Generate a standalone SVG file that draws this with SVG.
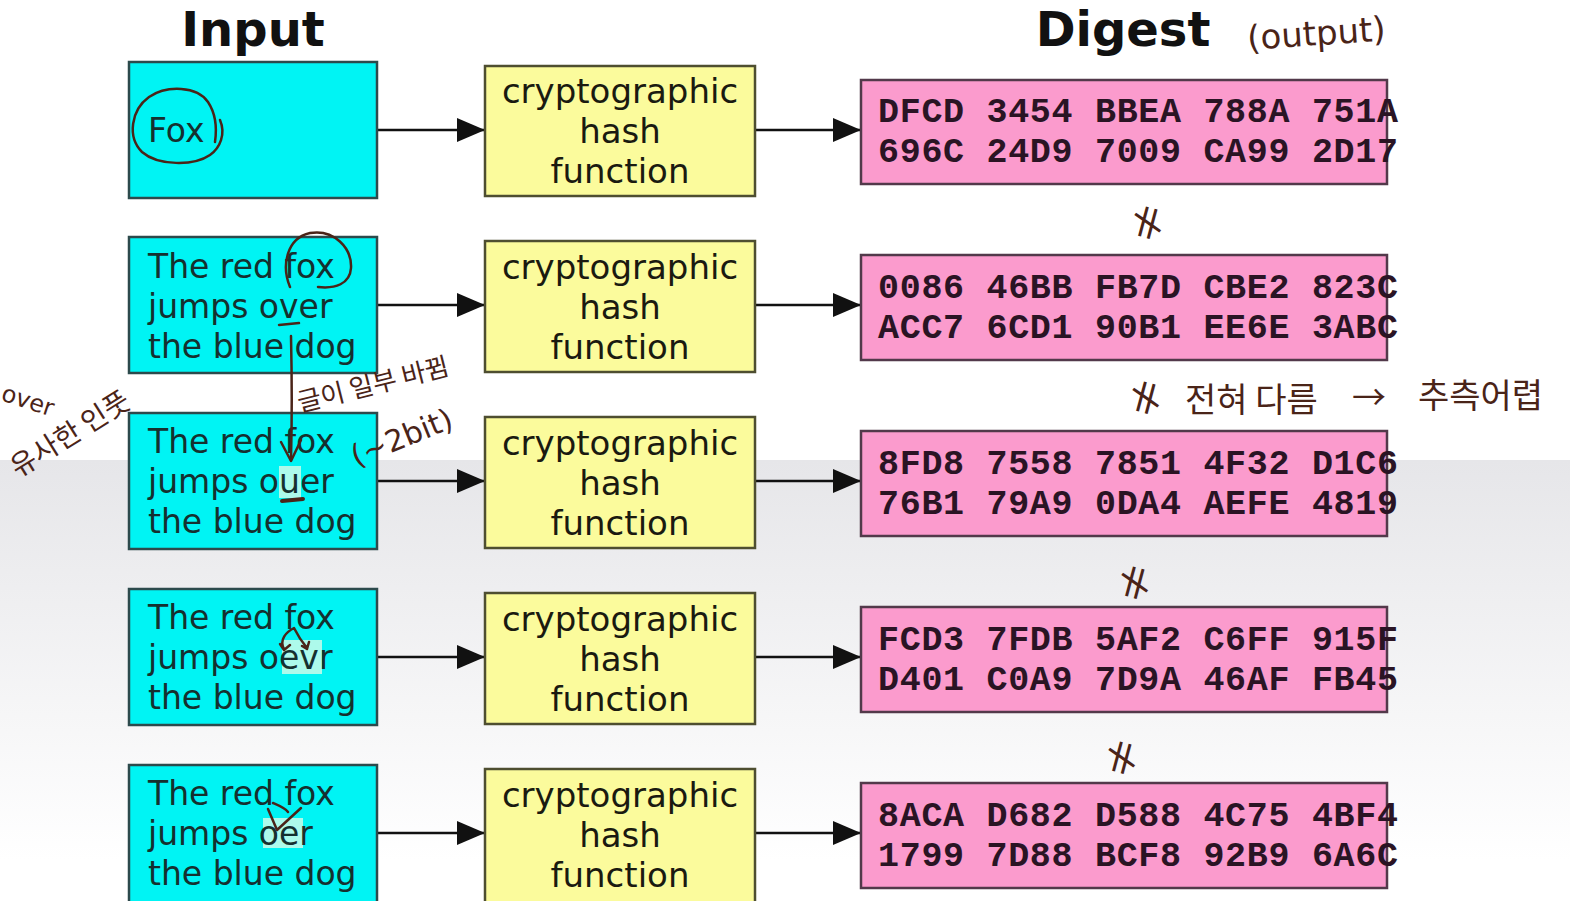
<svg xmlns="http://www.w3.org/2000/svg" width="1570" height="901" viewBox="0 0 1570 901">
<style>
.title{font-family:"DejaVu Sans",sans-serif;font-weight:bold;font-size:48px;fill:#111;text-anchor:middle}
.inbox{fill:#00f4f4;stroke:#2c4a4c;stroke-width:2.5}
.hbox{fill:#fbfb9c;stroke:#4e4e30;stroke-width:2.5}
.dbox{fill:#fb9bcd;stroke:#52394a;stroke-width:2.5}
.in{font-family:"DejaVu Sans",sans-serif;font-size:33px;fill:#15302f}
.h{font-family:"DejaVu Sans",sans-serif;font-size:34px;fill:#1a1a10;text-anchor:middle}
.d{font-family:"Liberation Mono",monospace;font-weight:bold;font-size:35px;fill:#2a1424}
.edge{stroke:#111;stroke-width:2.5;fill:none}
.hand{font-family:"Noto Sans CJK KR","DejaVu Sans",sans-serif;fill:#4a2418}
.handl{font-family:"DejaVu Sans",sans-serif;fill:#4a2418}
.ink{stroke:#4a2418;stroke-width:2.5;fill:none;stroke-linecap:round;stroke-linejoin:round}
.hl{fill:#d8fbe8;opacity:0.8}
</style>
<defs>
<marker id="ah" viewBox="0 0 28 24" refX="28" refY="12" markerWidth="28" markerHeight="24" markerUnits="userSpaceOnUse" orient="auto">
<path d="M0,0 L28,12 L0,24 Z" fill="#111"/>
</marker>
<linearGradient id="bg" x1="0" y1="0" x2="0" y2="1">
<stop offset="0" stop-color="#e6e6e9"/>
<stop offset="1" stop-color="#ffffff"/>
</linearGradient>
</defs>
<rect x="0" y="0" width="1570" height="901" fill="#ffffff"/>
<rect x="0" y="460" width="1570" height="400" fill="url(#bg)"/>

<text class="title" x="253" y="46">Input</text>
<text class="title" x="1123" y="46">Digest</text>

<g id="connectors">
<line class="edge" x1="377" y1="130" x2="485" y2="130" marker-end="url(#ah)"/>
<line class="edge" x1="755" y1="130" x2="861" y2="130" marker-end="url(#ah)"/>
<line class="edge" x1="377" y1="305" x2="485" y2="305" marker-end="url(#ah)"/>
<line class="edge" x1="755" y1="305" x2="861" y2="305" marker-end="url(#ah)"/>
<line class="edge" x1="377" y1="481" x2="485" y2="481" marker-end="url(#ah)"/>
<line class="edge" x1="755" y1="481" x2="861" y2="481" marker-end="url(#ah)"/>
<line class="edge" x1="377" y1="657" x2="485" y2="657" marker-end="url(#ah)"/>
<line class="edge" x1="755" y1="657" x2="861" y2="657" marker-end="url(#ah)"/>
<line class="edge" x1="377" y1="833" x2="485" y2="833" marker-end="url(#ah)"/>
<line class="edge" x1="755" y1="833" x2="861" y2="833" marker-end="url(#ah)"/>
</g>

<g id="input1"><rect class="inbox" x="129" y="62" width="248" height="136"/>
<text class="in" x="148" y="142">Fox</text></g>
<g id="input2"><rect class="inbox" x="129" y="237" width="248" height="136"/>
<text class="in" x="148" y="278">The red fox</text><text class="in" x="148" y="318">jumps over</text><text class="in" x="148" y="358">the blue dog</text></g>
<g id="input3"><rect class="inbox" x="129" y="413" width="248" height="136"/>
<rect class="hl" x="279" y="466" width="22" height="32"/>
<text class="in" x="148" y="453">The red fox</text><text class="in" x="148" y="493">jumps ouer</text><text class="in" x="148" y="533">the blue dog</text></g>
<g id="input4"><rect class="inbox" x="129" y="589" width="248" height="136"/>
<rect class="hl" x="282" y="640" width="40" height="34"/>
<text class="in" x="148" y="629">The red fox</text><text class="in" x="148" y="669">jumps oevr</text><text class="in" x="148" y="709">the blue dog</text></g>
<g id="input5"><rect class="inbox" x="129" y="765" width="248" height="140"/>
<rect class="hl" x="263" y="818" width="40" height="30"/>
<text class="in" x="148" y="805">The red fox</text><text class="in" x="148" y="845">jumps oer</text><text class="in" x="148" y="885">the blue dog</text></g>

<g id="hash1"><rect class="hbox" x="485" y="66" width="270" height="130"/>
<text class="h" x="620" y="103">cryptographic</text><text class="h" x="620" y="143">hash</text><text class="h" x="620" y="183">function</text></g>
<g id="hash2"><rect class="hbox" x="485" y="241" width="270" height="131"/>
<text class="h" x="620" y="279">cryptographic</text><text class="h" x="620" y="319">hash</text><text class="h" x="620" y="359">function</text></g>
<g id="hash3"><rect class="hbox" x="485" y="417" width="270" height="131"/>
<text class="h" x="620" y="455">cryptographic</text><text class="h" x="620" y="495">hash</text><text class="h" x="620" y="535">function</text></g>
<g id="hash4"><rect class="hbox" x="485" y="593" width="270" height="131"/>
<text class="h" x="620" y="631">cryptographic</text><text class="h" x="620" y="671">hash</text><text class="h" x="620" y="711">function</text></g>
<g id="hash5"><rect class="hbox" x="485" y="769" width="270" height="135"/>
<text class="h" x="620" y="807">cryptographic</text><text class="h" x="620" y="847">hash</text><text class="h" x="620" y="887">function</text></g>

<g id="digest1"><rect class="dbox" x="861" y="80" width="526" height="104"/>
<text class="d" x="878" y="122" textLength="520" lengthAdjust="spacing">DFCD 3454 BBEA 788A 751A</text>
<text class="d" x="878" y="162" textLength="520" lengthAdjust="spacing">696C 24D9 7009 CA99 2D17</text></g>
<g id="digest2"><rect class="dbox" x="861" y="255" width="526" height="105"/>
<text class="d" x="878" y="298" textLength="520" lengthAdjust="spacing">0086 46BB FB7D CBE2 823C</text>
<text class="d" x="878" y="338" textLength="520" lengthAdjust="spacing">ACC7 6CD1 90B1 EE6E 3ABC</text></g>
<g id="digest3"><rect class="dbox" x="861" y="431" width="526" height="105"/>
<text class="d" x="878" y="474" textLength="520" lengthAdjust="spacing">8FD8 7558 7851 4F32 D1C6</text>
<text class="d" x="878" y="514" textLength="520" lengthAdjust="spacing">76B1 79A9 0DA4 AEFE 4819</text></g>
<g id="digest4"><rect class="dbox" x="861" y="607" width="526" height="105"/>
<text class="d" x="878" y="650" textLength="520" lengthAdjust="spacing">FCD3 7FDB 5AF2 C6FF 915F</text>
<text class="d" x="878" y="690" textLength="520" lengthAdjust="spacing">D401 C0A9 7D9A 46AF FB45</text></g>
<g id="digest5"><rect class="dbox" x="861" y="783" width="526" height="105"/>
<text class="d" x="878" y="826" textLength="520" lengthAdjust="spacing">8ACA D682 D588 4C75 4BF4</text>
<text class="d" x="878" y="866" textLength="520" lengthAdjust="spacing">1799 7D88 BCF8 92B9 6A6C</text></g>

<g id="annotations">
<path class="ink" d="M220,120 C226,134 220,148 210,155 C194,166 158,166 142,152 C127,137 131,110 149,97 C167,85 197,86 208,102 C216,114 217,128 215,142"/>
<path class="ink" d="M290,287 C281,265 287,238 310,233 C334,229 352,248 351,268 C350,284 335,289 318,287"/>
<path class="ink" d="M291,336 C292,380 292,420 291,460"/>
<path class="ink" d="M281,442 L291,461 L301,440"/>
<path class="ink" d="M279,325 L299,323"/>
<path class="ink" d="M282,501 L303,499" style="stroke-width:4"/>
<path class="ink" d="M284,649 C279,640 286,632 294,628 C298,636 302,642 307,648 M280,644 L284,650 L290,645 M302,646 L307,649 L309,642"/>
<path class="ink" d="M268,809 L277,830 L301,808 M273,803 C280,806 285,808 288,812"/>
<text class="handl" x="1248" y="50" font-size="34" transform="rotate(-4 1248 50)">(output)</text>
<text class="hand" x="1130" y="245" font-size="42" transform="rotate(-75 1145 228)">≠</text>
<text class="hand" x="1128" y="420" font-size="42" transform="rotate(-75 1143 403)">≠</text>
<text class="hand" x="1185" y="412" font-size="34">전혀 다름</text>
<text class="hand" x="1352" y="410" font-size="34">→</text>
<text class="hand" x="1418" y="408" font-size="34">추측어렵</text>
<text class="hand" x="1117" y="605" font-size="42" transform="rotate(-75 1132 588)">≠</text>
<text class="hand" x="1104" y="780" font-size="42" transform="rotate(-75 1119 763)">≠</text>
<text class="handl" x="0" y="400" font-size="24" transform="rotate(18 0 400)">over</text>
<text class="hand" x="18" y="478" font-size="28" transform="rotate(-32 18 478)">유사한 인풋</text>
<text class="hand" x="300" y="412" font-size="26" transform="rotate(-14 300 412)">글이 일부 바뀜</text>
<text class="handl" x="356" y="467" font-size="30" transform="rotate(-22 356 467)">(~2bit)</text>
</g>
</svg>
